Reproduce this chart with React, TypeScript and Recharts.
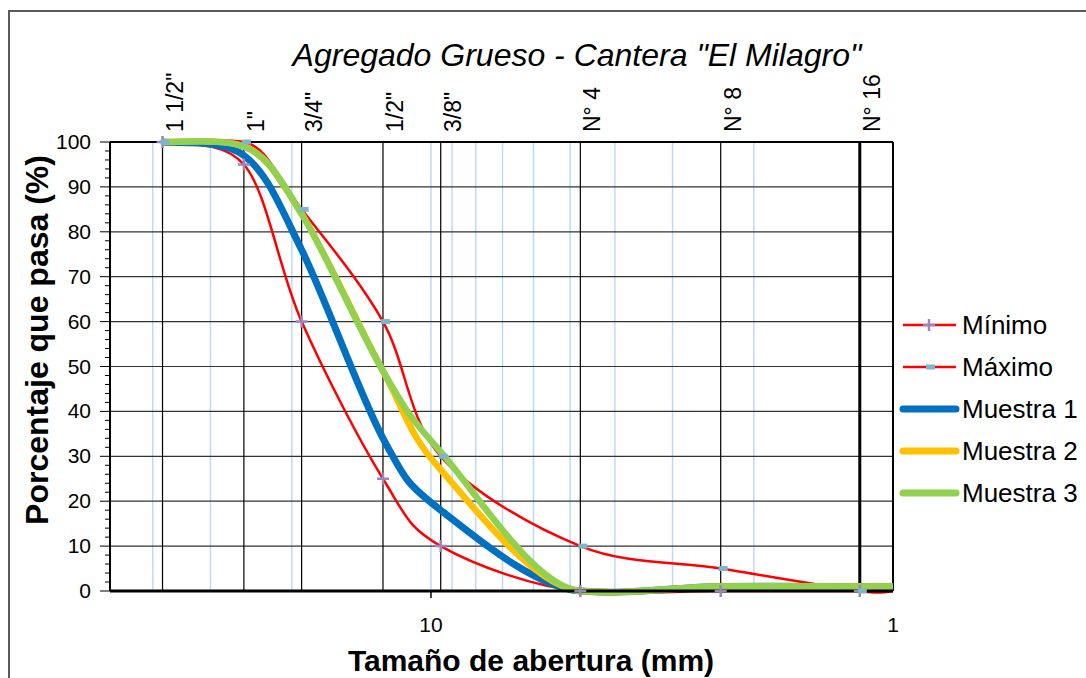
import { LineChart, Line, XAxis, YAxis, ReferenceLine } from 'recharts';

// sieve openings (mm) and their names
const sieveLabels = ['1 1/2"', '1"', '3/4"', '1/2"', '3/8"', 'N° 4', 'N° 8', 'N° 16'];
const sieveSizes = [38.1, 25.4, 19.05, 12.7, 9.525, 4.75, 2.36, 1.18];
// last entry = right edge of the chart (1 mm), curves run flat to it
const edgeSize = 1;

const minimo = [100, 95, 60, 25, 10, 0, 0, 0, 0];
const maximo = [100, 100, 85, 60, 30, 10, 5, 0, 0];
const muestra1 = [100, 97, 76, 34, 18, 0, 1, 1, 1];
const muestra2 = [100, 99, 84, 49, 27, 0, 1, 1, 1];
const muestra3 = [100, 99, 84, 49, 31, 0, 1, 1, 1];

const minorGrid = [40, 30, 20, 10, 9, 8, 7, 6, 5, 4, 3, 2];
const yGrid = [10, 20, 30, 40, 50, 60, 70, 80, 90];
const yTicks = Array.from({ length: 51 }, (_, i) => i * 2);
const xTicks = [10, 1];

const sizes = [...sieveSizes, edgeSize];
const data = sizes.map((size, i) => ({
  size,
  minimo: minimo[i],
  maximo: maximo[i],
  m1: muestra1[i],
  m2: muestra2[i],
  m3: muestra3[i],
}));

const FONT = '"Liberation Sans", Arial, sans-serif';
const W = 1086;
const H = 678;
const AXIS_X = 110;
const AXIS_Y = 591;
const SLACK = 4; // how far (px) a control point may go past its segment

// smoothed line close to Excel's: Catmull-Rom, with the vertical
// part of each tangent limited so the curve barely overshoots
const excelSmooth = (context: any) => {
  let pts: number[][] = [];
  return {
    areaStart() {},
    areaEnd() {},
    lineStart() {
      pts = [];
    },
    point(x: number, y: number) {
      pts.push([+x, +y]);
    },
    lineEnd() {
      const n = pts.length;
      if (!n) return;
      const tan = pts.map((p, i) => {
        const a = pts[i - 1] || p;
        const b = pts[i + 1] || p;
        let tx = (b[0] - a[0]) / 6;
        let ty = (b[1] - a[1]) / 6;
        if (ty !== 0) {
          let s = 1;
          // incoming control p - t within [a.y, p.y] (+slack)
          const inY = p[1] - ty;
          const lo1 = Math.min(a[1], p[1]) - SLACK;
          const hi1 = Math.max(a[1], p[1]) + SLACK;
          if (inY < lo1) s = Math.min(s, (p[1] - lo1) / ty);
          if (inY > hi1) s = Math.min(s, (p[1] - hi1) / ty);
          const outY = p[1] + ty;
          const lo2 = Math.min(b[1], p[1]) - SLACK;
          const hi2 = Math.max(b[1], p[1]) + SLACK;
          if (outY < lo2) s = Math.min(s, (lo2 - p[1]) / ty);
          if (outY > hi2) s = Math.min(s, (hi2 - p[1]) / ty);
          ty *= Math.max(0, s);
        }
        return [tx, ty];
      });
      context.moveTo(pts[0][0], pts[0][1]);
      for (let i = 0; i < n - 1; i++) {
        const p1 = pts[i];
        const p2 = pts[i + 1];
        context.bezierCurveTo(
          p1[0] + tan[i][0], p1[1] + tan[i][1],
          p2[0] - tan[i + 1][0], p2[1] - tan[i + 1][1],
          p2[0], p2[1],
        );
      }
    },
  };
};

const PlusDot = (p: any) => {
  const { cx, cy, index } = p;
  if (index >= sieveLabels.length || cx == null) return <g key={`mn-${index}`} />;
  return (
    <path key={`mn-${index}`} d={`M${cx - 6},${cy}h12M${cx},${cy - 6}v12`} stroke="#9a86bb" strokeWidth={2.5} fill="none" />
  );
};

const DashDot = (p: any) => {
  const { cx, cy, index } = p;
  if (index >= sieveLabels.length || cx == null) return <g key={`mx-${index}`} />;
  return <rect key={`mx-${index}`} x={cx - 2} y={cy - 2.5} width={9} height={5} fill="#7db5cd" />;
};

const YTick = ({ y, payload }: any) => {
  const major = payload.value % 10 === 0;
  return (
    <g>
      <line x1={AXIS_X - (major ? 10 : 5)} x2={AXIS_X} y1={y} y2={y} stroke="#000" strokeWidth={1} />
      {major && (
        <text x={AXIS_X - 19} y={y} dy={7} textAnchor="end" fontSize={21} fontFamily={FONT} fill="#000">
          {payload.value}
        </text>
      )}
    </g>
  );
};

const XTick = ({ x, payload }: any) => (
  <g>
    {payload.value === 10 && <line x1={x} x2={x} y1={AXIS_Y} y2={AXIS_Y + 7} stroke="#000" strokeWidth={1.5} />}
    <text x={x} y={AXIS_Y + 41} textAnchor="middle" fontSize={21} fontFamily={FONT} fill="#000">
      {payload.value}
    </text>
  </g>
);

const sieveLabel = (text: string) => (props: any) => {
  const vb = props.viewBox || {};
  const x = vb.x + 20;
  const y = vb.y - 10;
  return (
    <text x={x} y={y} transform={`rotate(-90 ${x} ${y})`} fontSize={23} fontFamily={FONT} fill="#000">
      {text}
    </text>
  );
};

const legendItems = [
  { name: 'Mínimo', color: '#ff0000', width: 2.5, marker: 'plus' },
  { name: 'Máximo', color: '#ff0000', width: 2.5, marker: 'dash' },
  { name: 'Muestra 1', color: '#0070c0', width: 7, marker: '' },
  { name: 'Muestra 2', color: '#ffc000', width: 7, marker: '' },
  { name: 'Muestra 3', color: '#92d050', width: 7, marker: '' },
];

export default function App() {
  return (
    <div style={{ position: 'absolute', left: 0, top: 0, width: W, height: H, overflow: 'hidden', background: '#fff' }}>
      <div style={{ position: 'absolute', left: 8, top: 10, width: 1200, height: 900, borderTop: '2px solid #5a5a5a', borderLeft: '2px solid #5a5a5a' }} />
      <LineChart width={W} height={H} data={data} margin={{ top: 142, right: 193, bottom: 47, left: 50 }}>
        <XAxis
          dataKey="size"
          type="number"
          scale="log"
          domain={[1, 49.5]}
          reversed
          ticks={xTicks}
          interval={0}
          tick={XTick}
          tickLine={false}
          axisLine={{ stroke: '#000', strokeWidth: 3 }}
          height={40}
        />
        <YAxis
          type="number"
          domain={[0, 100]}
          ticks={yTicks}
          interval={0}
          tick={YTick}
          tickLine={false}
          axisLine={{ stroke: '#000', strokeWidth: 2 }}
          width={60}
        />
        {minorGrid.map((v) => (
          <ReferenceLine key={`mg-${v}`} x={v} stroke="#bcdaf7" strokeWidth={1.5} />
        ))}
        {yGrid.map((v) => (
          <ReferenceLine key={`yg-${v}`} y={v} stroke="#333" strokeWidth={1.2} />
        ))}
        {sieveSizes.map((s, i) => (
          <ReferenceLine
            key={`sv-${i}`}
            x={s}
            stroke="#000"
            strokeWidth={i === sieveSizes.length - 1 ? 3 : 1.2}
            label={sieveLabel(sieveLabels[i])}
          />
        ))}
        <ReferenceLine y={100} stroke="#000" strokeWidth={2} />
        <ReferenceLine x={1} stroke="#000" strokeWidth={2} />
        <Line dataKey="minimo" type={excelSmooth as any} stroke="#ff0000" strokeWidth={2.5} dot={PlusDot} activeDot={false} isAnimationActive={false} />
        <Line dataKey="maximo" type={excelSmooth as any} stroke="#ff0000" strokeWidth={2.5} dot={DashDot} activeDot={false} isAnimationActive={false} />
        <Line dataKey="m1" type={excelSmooth as any} stroke="#0070c0" strokeWidth={7} dot={false} activeDot={false} isAnimationActive={false} />
        <Line dataKey="m2" type={excelSmooth as any} stroke="#ffc000" strokeWidth={6.5} dot={false} activeDot={false} isAnimationActive={false} />
        <Line dataKey="m3" type={excelSmooth as any} stroke="#92d050" strokeWidth={6.5} dot={false} activeDot={false} isAnimationActive={false} />
      </LineChart>
      <svg width={W} height={H} style={{ position: 'absolute', left: 0, top: 0, pointerEvents: 'none' }}>
        <text x={577} y={66} textAnchor="middle" fontSize={32} fontStyle="italic" fontFamily={FONT} fill="#000">
          Agregado Grueso - Cantera "El Milagro"
        </text>
        <text
          x={48}
          y={340}
          transform="rotate(-90 48 340)"
          textAnchor="middle"
          fontSize={32}
          fontWeight="bold"
          fontFamily={FONT}
          fill="#000"
        >
          Porcentaje que pasa (%)
        </text>
        <text x={531} y={671} textAnchor="middle" fontSize={30} fontWeight="bold" fontFamily={FONT} fill="#000">
          Tamaño de abertura (mm)
        </text>
        {legendItems.map((it, i) => {
          const cy = 325 + i * 42;
          return (
            <g key={it.name}>
              <line x1={903} x2={956} y1={cy} y2={cy} stroke={it.color} strokeWidth={it.width} strokeLinecap={it.marker ? 'butt' : 'round'} />
              {it.marker === 'plus' && <path d={`M${923},${cy}h12M${929},${cy - 6}v12`} stroke="#9a86bb" strokeWidth={2.5} />}
              {it.marker === 'dash' && <rect x={926} y={cy - 2.5} width={9} height={5} fill="#7db5cd" />}
              <text x={962} y={cy + 9} fontSize={26} fontFamily={FONT} fill="#000">
                {it.name}
              </text>
            </g>
          );
        })}
      </svg>
    </div>
  );
}
